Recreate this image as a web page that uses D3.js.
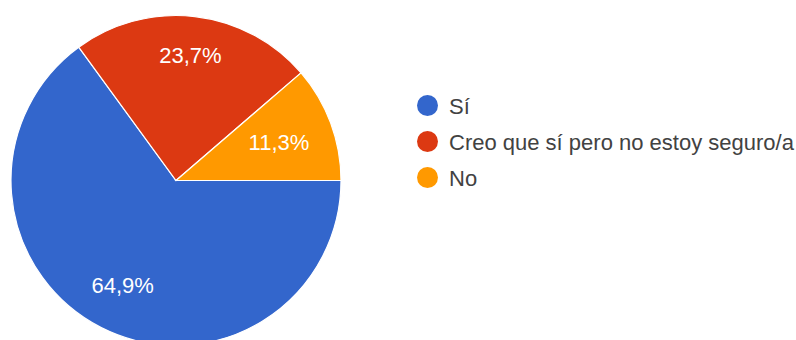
<!DOCTYPE html>
<html>
<head>
<meta charset="utf-8">
<script src="https://cdn.jsdelivr.net/npm/d3@7"></script>
<style>
  html, body { margin: 0; padding: 0; background: #fff; }
  svg { display: block; font-family: Arial, "Liberation Sans", sans-serif; }
</style>
</head>
<body>
<svg id="chart" width="796" height="340"></svg>
<script>
// Survey answers and their shares (percent)
const categories = ["Sí", "Creo que sí pero no estoy seguro/a", "No"];
const values = [64.9, 23.7, 11.3];
const colors = ["#3366cc", "#dc3912", "#ff9900"];

const svg = d3.select("#chart");
const cx = 176, cy = 180.5, R = 165;
const labelFont = 22;

const color = d3.scaleOrdinal().domain(categories).range(colors);

// Slices start at 3 o'clock and run clockwise
const pie = d3.pie()
  .sort(null)
  .startAngle(Math.PI / 2)
  .endAngle(Math.PI / 2 + 2 * Math.PI)
  .value((d, i) => values[i]);

const arcs = pie(categories);
const arc = d3.arc().innerRadius(0).outerRadius(R);

const g = svg.append("g").attr("transform", `translate(${cx},${cy})`);

g.selectAll("path.slice")
  .data(arcs)
  .join("path")
  .attr("class", "slice")
  .attr("d", arc)
  .attr("fill", d => color(d.data))
  .attr("stroke", "#fff")
  .attr("stroke-width", 1.2);

// Percentage labels: pushed out along the mid-angle until the outer
// corner of the text box reaches a fixed radius inside the slice.
const reach = R * 0.855;
const labels = g.selectAll("text.pct")
  .data(arcs)
  .join("text")
  .attr("class", "pct")
  .attr("text-anchor", "middle")
  .attr("fill", "#fff")
  .attr("font-size", labelFont)
  .text((d, i) => values[i].toFixed(1).replace(".", ",") + "%");

labels.each(function (d) {
  const w = this.getComputedTextLength();
  const h = labelFont * 0.72;
  const a = (d.startAngle + d.endAngle) / 2;
  const ux = Math.sin(a), uy = -Math.cos(a);
  const c = [Math.sign(ux) * w / 2, Math.sign(uy) * h / 2];
  const uc = ux * c[0] + uy * c[1];
  const cc = c[0] * c[0] + c[1] * c[1];
  const t = -uc + Math.sqrt(uc * uc - cc + reach * reach);
  d3.select(this)
    .attr("x", ux * t)
    .attr("y", uy * t + h / 2);
});

// Legend
const legend = svg.append("g").attr("transform", "translate(427.5,105.5)");
const row = legend.selectAll("g.item")
  .data(categories)
  .join("g")
  .attr("class", "item")
  .attr("transform", (d, i) => `translate(0,${i * 36})`);

row.append("circle")
  .attr("r", 10.5)
  .attr("fill", d => color(d));

row.append("text")
  .attr("x", 21.5)
  .attr("y", 8)
  .attr("fill", "#424242")
  .attr("font-size", 22)
  .text(d => d);
</script>
</body>
</html>
